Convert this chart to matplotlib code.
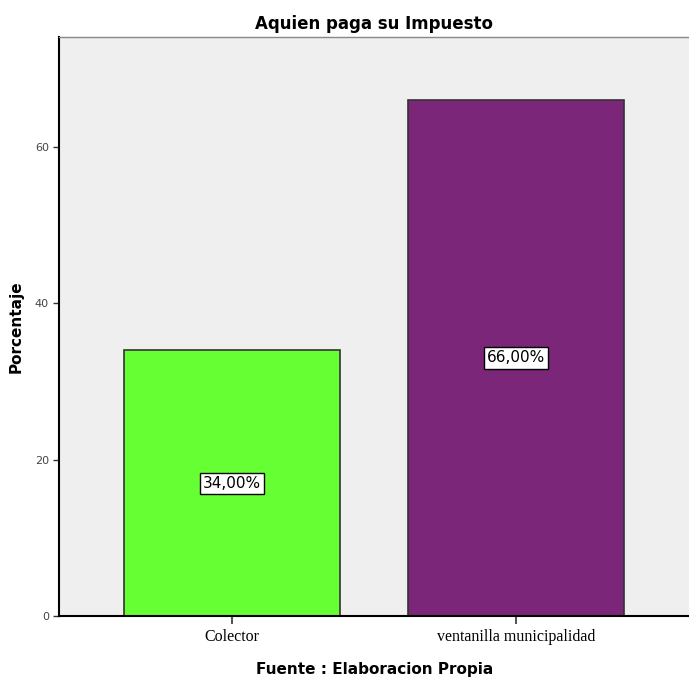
import matplotlib
matplotlib.use("Agg")
import matplotlib.pyplot as plt

# datos del grafico
categorias = ["Colector", "ventanilla municipalidad"]
porcentajes = [34.0, 66.0]
colores = ["#66ff33", "#7b2678"]
ticks_y = [0, 20, 40, 60]

fig = plt.figure(figsize=(6.89, 6.87), dpi=100)
ax = fig.add_axes([0.086, 0.103, 0.914, 0.843])
ax.set_facecolor("#efefef")

pos = list(range(len(categorias)))
bars = ax.bar(pos, porcentajes, width=0.76, color=colores,
              edgecolor="#333333", linewidth=1.2, zorder=2)

# etiqueta con el porcentaje en el centro de cada barra
for b, v in zip(bars, porcentajes):
    ax.text(b.get_x() + b.get_width() / 2, v / 2, f"{v:.2f}%".replace(".", ","),
            ha="center", va="center", fontsize=11, family="Liberation Sans Narrow",
            bbox=dict(boxstyle="square,pad=0.2", facecolor="white",
                      edgecolor="black", linewidth=1.0), zorder=3)

ax.set_xlim(-0.61, 1.61)
ax.set_ylim(0, 74)
ax.set_xticks(pos)
ax.set_xticklabels(categorias, family="Liberation Serif", fontsize=11.5)
ax.set_yticks(ticks_y)
ax.set_yticklabels([str(t) for t in ticks_y], fontsize=8, color="#444444")
ax.tick_params(axis="x", length=6, width=1.2, color="#333333")
ax.tick_params(axis="y", length=4, width=1.0, color="#333333")

for s in ["left", "bottom"]:
    ax.spines[s].set_color("black")
    ax.spines[s].set_linewidth(1.5)
ax.spines["top"].set_color("#888888")
ax.spines["top"].set_linewidth(1.0)
ax.spines["right"].set_visible(False)

ax.set_title("Aquien paga su Impuesto", fontsize=12, fontweight="bold",
             family="Liberation Sans Narrow", pad=6)
ax.set_ylabel("Porcentaje", fontsize=11, fontweight="bold", labelpad=8)
ax.set_xlabel("Fuente : Elaboracion Propia", fontsize=11, fontweight="bold",
              family="Liberation Sans Narrow", labelpad=12)

fig.savefig("out.png", dpi=100)
